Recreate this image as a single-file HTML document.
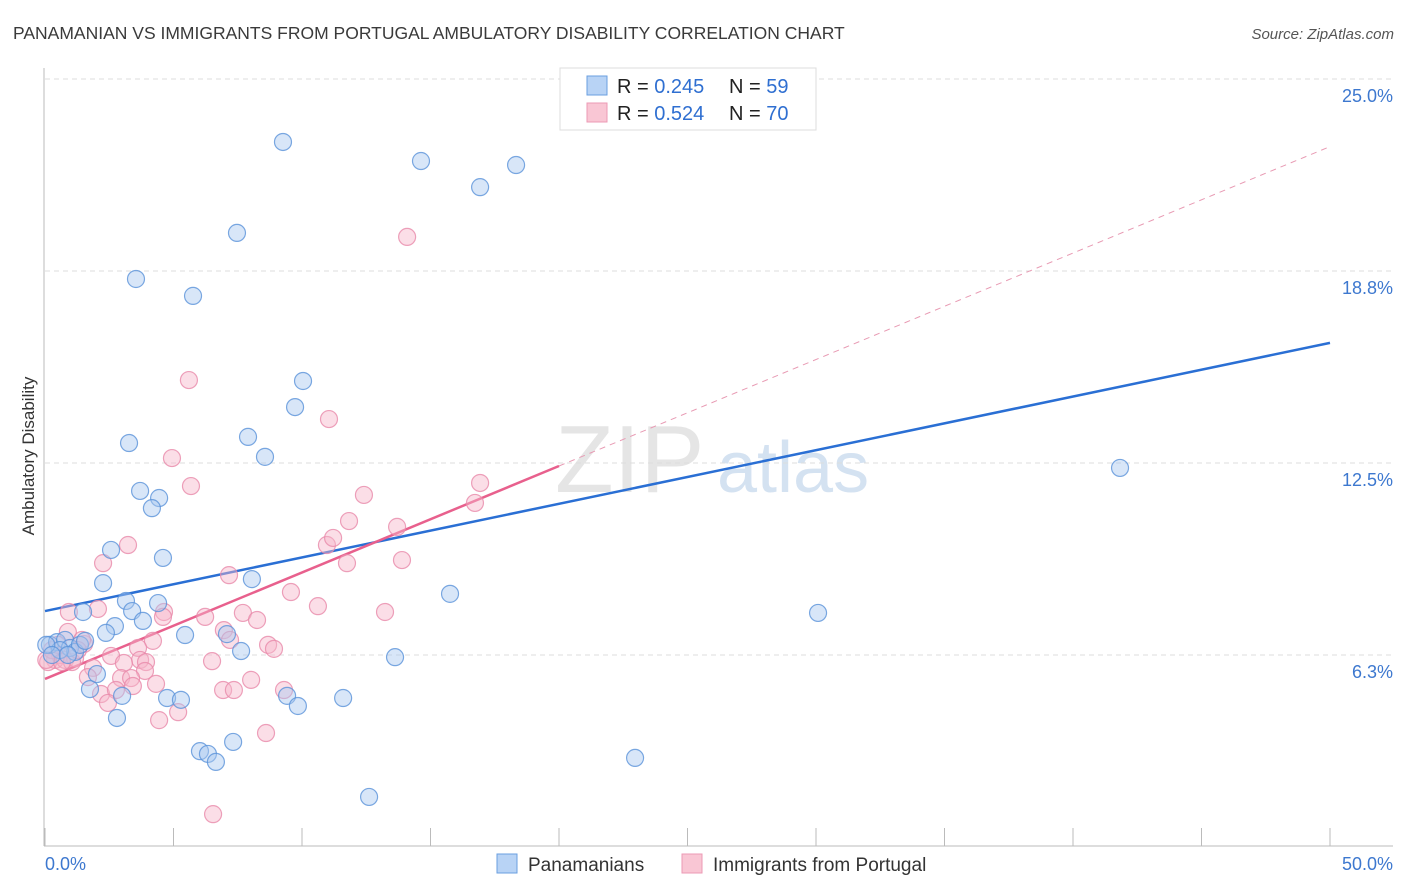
<!DOCTYPE html>
<html><head><meta charset="utf-8">
<style>
html,body{margin:0;padding:0;background:#fff;width:1406px;height:892px;overflow:hidden;font-family:"Liberation Sans",sans-serif;}
svg text{font-family:"Liberation Sans",sans-serif;}
</style></head>
<body>
<svg id="chart" width="1406" height="892" viewBox="0 0 1406 892" xmlns="http://www.w3.org/2000/svg">
<text x="13" y="39" font-size="17.5" fill="#3a3a3a">PANAMANIAN VS IMMIGRANTS FROM PORTUGAL AMBULATORY DISABILITY CORRELATION CHART</text>
<text x="1394" y="39" font-size="15" fill="#555" font-style="italic" text-anchor="end">Source: ZipAtlas.com</text>
<text x="555" y="492" font-size="96" fill="#d4d4d4" font-family="Liberation Serif" opacity="0.6">ZIP</text>
<text x="717" y="492" font-size="72" fill="#b9cfe9" opacity="0.6">atlas</text>
<text transform="translate(34,456) rotate(-90)" font-size="17" fill="#333" text-anchor="middle">Ambulatory Disability</text>
<g id="grid"></g>
<g id="axes"></g>
<g id="trend"></g>
<g id="points"></g>
<g>
<rect x="560" y="68" width="256" height="62" fill="#fff" stroke="#ddd"/>
<rect x="587" y="76" width="20" height="19" fill="#b8d3f5" stroke="#6a9fe0"/>
<rect x="587" y="103" width="20" height="19" fill="#f9c6d4" stroke="#ec9ab5"/>
<text x="617" y="93" font-size="20" fill="#222">R = <tspan fill="#2f6fd1">0.245</tspan></text>
<text x="729" y="93" font-size="20" fill="#222">N = <tspan fill="#2f6fd1">59</tspan></text>
<text x="617" y="120" font-size="20" fill="#222">R = <tspan fill="#2f6fd1">0.524</tspan></text>
<text x="729" y="120" font-size="20" fill="#222">N = <tspan fill="#2f6fd1">70</tspan></text>
</g>
<g>
<rect x="497" y="854" width="20" height="19" fill="#b8d3f5" stroke="#6a9fe0"/>
<text x="528" y="871" font-size="19" fill="#333">Panamanians</text>
<rect x="682" y="854" width="20" height="19" fill="#f9c6d4" stroke="#ec9ab5"/>
<text x="713" y="871" font-size="19" fill="#333">Immigrants from Portugal</text>
</g>
</svg>
<script>
const yTicks=[25.0,18.75,12.5,6.25];
const yTickLabels=["25.0%","18.8%","12.5%","6.3%"];
const xTickLabels=["0.0%","50.0%"];
const blueX=[9.26,14.63,18.33,16.93,7.47,3.54,5.76,10.04,9.73,3.27,7.90,8.56,3.70,4.44,4.16,2.57,4.59,2.26,8.05,15.76,3.15,4.40,3.39,1.48,3.81,30.08,2.72,2.37,5.45,7.08,41.83,7.63,13.62,1.75,2.02,3.00,4.75,5.29,9.42,9.84,11.60,2.80,7.32,6.03,6.34,6.65,22.96,12.61,0.19,0.47,0.78,0.97,1.17,0.58,0.05,1.36,1.56,0.27,0.89];
const blueY=[22.95,22.33,22.20,21.48,19.99,18.49,17.94,15.17,14.32,13.15,13.35,12.70,11.59,11.36,11.03,9.67,9.41,8.59,8.72,8.24,8.01,7.94,7.68,7.65,7.36,7.62,7.19,6.97,6.90,6.93,12.34,6.38,6.18,5.14,5.63,4.92,4.85,4.79,4.92,4.59,4.85,4.20,3.42,3.12,3.03,2.77,2.90,1.63,6.58,6.67,6.74,6.48,6.35,6.41,6.58,6.58,6.71,6.25,6.25];
const pinkX=[14.09,5.60,11.05,4.94,5.68,16.93,12.41,16.73,11.83,13.70,10.97,11.21,3.23,2.26,11.75,13.89,7.16,9.57,10.62,13.23,0.93,2.06,4.63,4.59,6.23,7.70,8.25,6.96,7.20,4.20,3.62,0.89,1.52,8.68,8.91,2.57,3.70,3.93,6.50,3.07,3.89,1.87,1.67,2.96,3.35,4.32,6.93,7.35,3.42,8.02,9.30,2.18,2.76,2.45,5.18,4.44,8.60,6.54,0.39,0.58,0.12,0.78,1.17,0.27,0.51,1.44,1.05,0.66,1.28,0.05];
const pinkY=[19.86,15.20,13.93,12.66,11.75,11.85,11.46,11.20,10.61,10.42,9.83,10.06,9.83,9.24,9.24,9.34,8.85,8.30,7.84,7.65,7.65,7.75,7.65,7.49,7.49,7.62,7.39,7.06,6.74,6.71,6.48,7.00,6.61,6.58,6.45,6.22,6.09,6.02,6.05,5.99,5.73,5.83,5.53,5.50,5.50,5.31,5.11,5.11,5.24,5.44,5.11,4.98,5.11,4.69,4.39,4.13,3.71,1.07,6.09,6.25,6.02,6.09,6.15,6.41,6.58,6.74,6.02,6.02,6.41,6.09];
const blueTrend=[7.68,16.41];
const pinkTrend=[5.47,22.8];
const pinkSolidEnd=20;

const NS="http://www.w3.org/2000/svg";
const X0=45,X1=1330,Y0=847,PXPER=30.72;
function sx(v){return X0+(X1-X0)*v/50;}
function sy(v){return Y0-v*PXPER;}
function mk(tag,attrs,parent){const e=document.createElementNS(NS,tag);for(const k in attrs)e.setAttribute(k,attrs[k]);parent.appendChild(e);return e;}

const grid=document.getElementById('grid');
yTicks.forEach((t,i)=>{
  const l=mk('line',{x1:45,x2:1393,y1:sy(t),y2:sy(t),stroke:'#ddd','stroke-dasharray':'5,4'},grid);
  
  
  const tx=mk('text',{x:1393,y:sy(t)+23,'font-size':18,fill:'#3d78cf','text-anchor':'end'},grid);
  tx.textContent=yTickLabels[i];
  
  
});
const axes=document.getElementById('axes');
const ya=mk('line',{x1:44,x2:44,y1:68,y2:846,stroke:'#bbb'},axes);


const xa=mk('line',{x1:44,x2:1393,y1:846,y2:846,stroke:'#bbb'},axes);


for(let i=0;i<=10;i++){
  const t=mk('line',{x1:sx(i*5),x2:sx(i*5),y1:828,y2:846,stroke:'#bbb'},axes);
  
  
}
[[0,'start',45],[50,'end',1393]].forEach((p,i)=>{
  const tx=mk('text',{x:p[2],y:870,'font-size':18,fill:'#3d78cf','text-anchor':p[1]},axes);
  tx.textContent=xTickLabels[i];
  
  
});

const pts=document.getElementById('points');
function drawPts(xs,ys,fill,stroke,name){
  xs.forEach((x,i)=>{
    const c=mk('circle',{cx:sx(x),cy:sy(ys[i]),r:8.5,fill:fill,'fill-opacity':0.45,stroke:stroke,'stroke-opacity':0.8,'stroke-width':1.2},pts);
    
    
  });
}
drawPts(pinkX,pinkY,'#f7b6ca','#e98aaa','point-portugal');
drawPts(blueX,blueY,'#a9c8f0','#5a92d9','point-panamanian');

const tr=document.getElementById('trend');
const bl=mk('line',{x1:sx(0),y1:sy(blueTrend[0]),x2:sx(50),y2:sy(blueTrend[1]),stroke:'#2a6fd4','stroke-width':2.5},tr);


const pAt=v=>pinkTrend[0]+(pinkTrend[1]-pinkTrend[0])*v/50;
const pd=mk('line',{x1:sx(pinkSolidEnd),y1:sy(pAt(pinkSolidEnd)),x2:sx(50),y2:sy(pinkTrend[1]),stroke:'#e89ab3','stroke-width':1,'stroke-dasharray':'6,5'},tr);


const ps=mk('line',{x1:sx(0),y1:sy(pinkTrend[0]),x2:sx(pinkSolidEnd),y2:sy(pAt(pinkSolidEnd)),stroke:'#e8608d','stroke-width':2.5},tr);


</script>
</body></html>
